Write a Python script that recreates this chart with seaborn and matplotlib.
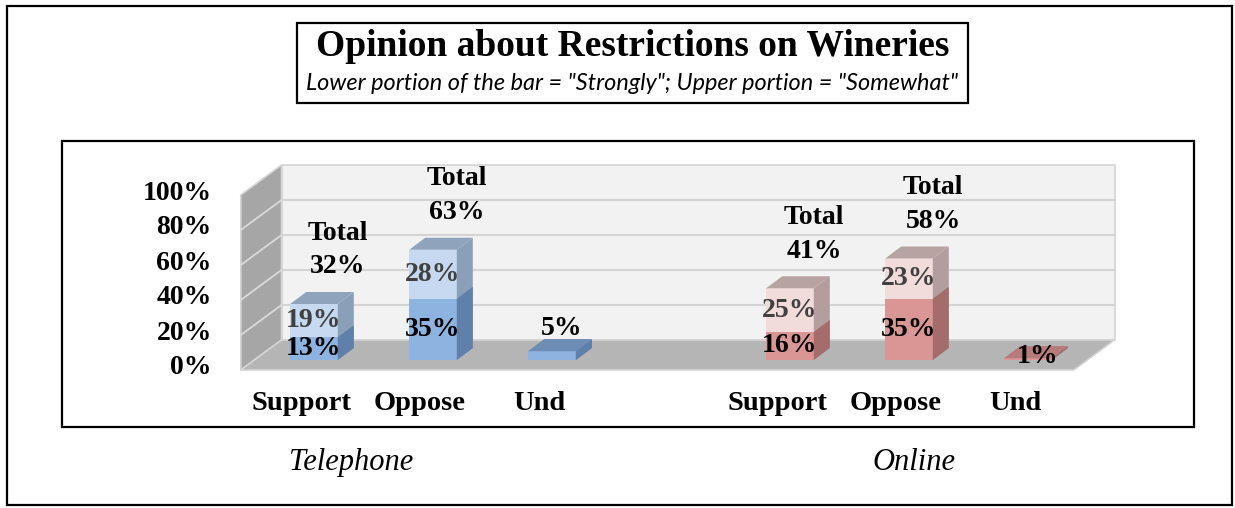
import numpy as np
import pandas as pd
import matplotlib
matplotlib.use('Agg')
import matplotlib.pyplot as plt
import seaborn as sns
from matplotlib.patches import Polygon, Rectangle

# data
modes = ['Telephone', 'Telephone', 'Telephone', 'Online', 'Online', 'Online']
cats = ['Support', 'Oppose', 'Und', 'Support', 'Oppose', 'Und']
strongly = [13, 35, 5, 16, 35, 1]
somewhat = [19, 28, 0, 25, 23, 0]
positions = [0, 1, 2, 4, 5, 6]
yticks = [0, 20, 40, 60, 80, 100]
ytick_labels = ['0%', '20%', '40%', '60%', '80%', '100%']
mode_names = ['Telephone', 'Online']

df = pd.DataFrame({'mode': modes, 'cat': cats, 'pos': positions,
                   'strong': strongly, 'some': somewhat})
df['total'] = df['strong'] + df['some']

# colours (front, side, top) per mode
strong_col = {'Telephone': ('#8DB3E0', '#5F80AA', '#6E8DB5'),
              'Online': ('#D99694', '#A46D6C', '#B57C7B')}
some_col = {'Telephone': ('#C6D9F1', '#8C9FB8', '#8FA3BC'),
            'Online': ('#F2DCDB', '#B29E9E', '#B8A3A3')}

sns.set_style('white')
plt.rcParams['font.family'] = ['Liberation Serif', 'DejaVu Serif']
plt.rcParams['text.color'] = 'black'

W, H = 1235, 508
fig = plt.figure(figsize=(W / 100, H / 100), dpi=100)

# axes placed so that 1 category = 119 px, 1% = 1.75 px, bar front 0% at y=360px
x_lo, x_hi = -1.2, 7.2
y_lo, y_hi = -20, 115
x0_px = 314 + x_lo * 119
x1_px = 314 + x_hi * 119
yb_px = 360 - y_lo * 1.75
yt_px = 360 - y_hi * 1.75
ax = fig.add_axes([x0_px / W, 1 - yb_px / H, (x1_px - x0_px) / W, (yb_px - yt_px) / H])

# stacked bars: total (upper colour) first, strong on top of it
n0 = len(ax.patches)
sns.barplot(data=df, x='pos', y='total', native_scale=True, width=0.4,
            color='#C6D9F1', errorbar=None, ax=ax, zorder=3, linewidth=0)
total_bars = ax.patches[n0:]
n1 = len(ax.patches)
sns.barplot(data=df, x='pos', y='strong', native_scale=True, width=0.4,
            color='#8DB3E0', errorbar=None, ax=ax, zorder=4, linewidth=0)
strong_bars = ax.patches[n1:]

ax.set_xlim(x_lo, x_hi)
ax.set_ylim(y_lo, y_hi)
ax.set_axis_off()

# pixel -> data units
ux = ax.transData.transform((1, 0))[0] - ax.transData.transform((0, 0))[0]
uy = ax.transData.transform((0, 1))[1] - ax.transData.transform((0, 0))[1]


def off(x, y, dxp, dyp):
    return (x + dxp / ux, y + dyp / uy)


back = (27, 20)      # back wall offset from the bar plane (px)
front = (-13.7, -10)  # front edge of floor / side wall
bdx, bdy = 16, 12    # depth of bars
wl, wr = -0.5, 6.5

# back wall and grid
ax.add_patch(Polygon([off(wl, 0, *back), off(wr, 0, *back), off(wr, 100, *back), off(wl, 100, *back)],
                     closed=True, fc='#F2F2F2', ec='#D4D4D4', lw=1.2, zorder=0))
for v in yticks[1:-1]:
    a, b = off(wl, v, *back), off(wr, v, *back)
    ax.plot([a[0], b[0]], [a[1], b[1]], color='#D4D4D4', lw=1.5, zorder=0.5)

# side wall
ax.add_patch(Polygon([off(wl, 0, *front), off(wl, 100, *front), off(wl, 100, *back), off(wl, 0, *back)],
                     closed=True, fc='#A6A6A6', ec='#D4D4D4', lw=1.2, zorder=1))
for v in yticks[1:-1]:
    a, b = off(wl, v, *front), off(wl, v, *back)
    ax.plot([a[0], b[0]], [a[1], b[1]], color='#DADADA', lw=1.3, zorder=1.2)

# floor
ax.add_patch(Polygon([off(wl, 0, *front), off(wr, 0, *front), off(wr, 0, *back), off(wl, 0, *back)],
                     closed=True, fc='#B5B5B5', ec='#D4D4D4', lw=1.2, zorder=1.5))

# colour the bars and add 3d faces
for i, (pt, ps) in enumerate(zip(total_bars, strong_bars)):
    m = df['mode'][i]
    has_some = df['some'][i] > 0
    pt.set_facecolor(some_col[m][0] if has_some else strong_col[m][0])
    ps.set_facecolor(strong_col[m][0])
    for p, cols, z in [(pt, some_col[m] if has_some else strong_col[m], 3), (ps, strong_col[m], 4)]:
        x0, w = p.get_x(), p.get_width()
        y0, h = p.get_y(), p.get_height()
        side = [(x0 + w, y0), (x0 + w, y0 + h), off(x0 + w, y0 + h, bdx, bdy), off(x0 + w, y0, bdx, bdy)]
        ax.add_patch(Polygon(side, closed=True, fc=cols[1], ec='none', zorder=z))
        if z == 3 or not has_some:
            top = [(x0, y0 + h), (x0 + w, y0 + h), off(x0 + w, y0 + h, bdx, bdy), off(x0, y0 + h, bdx, bdy)]
            ax.add_patch(Polygon(top, closed=True, fc=cols[2], ec='none', zorder=z + 0.5))

# value labels
vfs = 20
for i, r in df.iterrows():
    if r['some'] > 0:
        ax.text(r['pos'], r['strong'] / 2, f"{r['strong']}%", ha='center', va='center',
                fontsize=vfs, fontweight='bold', color='black', zorder=6)
        ax.text(r['pos'], r['strong'] + r['some'] / 2, f"{r['some']}%", ha='center', va='center',
                fontsize=vfs, fontweight='bold', color='#404040', zorder=6)
        lx, ly = off(r['pos'], r['total'], 24, 54)
        ax.text(lx, ly, f"Total\n{r['total']}%", ha='center', va='center', linespacing=1.45,
                fontsize=vfs, fontweight='bold', color='black', zorder=6)
    else:
        lift = 23 if r['mode'] == 'Telephone' else 2
        lx, ly = off(r['pos'], r['total'], 10, lift)
        ax.text(lx, ly, f"{r['total']}%", ha='center', va='center',
                fontsize=vfs, fontweight='bold', color='black', zorder=6)

# y tick labels on the front edge of the side wall
for v, lab in zip(yticks, ytick_labels):
    lx, ly = off(wl, v, front[0] - 29, front[1] + 2)
    ax.text(lx, ly, lab, ha='right', va='center', fontsize=20, fontweight='bold', color='black')

# category labels
for i, r in df.iterrows():
    lx, ly = off(r['pos'], 0, -13, -43)
    ax.text(lx, ly, r['cat'], ha='center', va='center', fontsize=20.5, fontweight='bold', color='black')

# survey mode labels
mode_dx = {'Telephone': -82, 'Online': 5}
for m in mode_names:
    xm = df.loc[df['mode'] == m, 'pos'].mean()
    lx, ly = off(xm, 0, mode_dx[m], -103)
    ax.text(lx, ly, m, ha='center', va='center', fontsize=22, fontstyle='italic', color='black')

# frames
def frame(x0, y0, x1, y1, lw=1.6):
    fig.add_artist(Rectangle((x0 / W, 1 - y1 / H), (x1 - x0) / W, (y1 - y0) / H,
                             transform=fig.transFigure, fill=False, ec='black', lw=lw))

frame(7, 6, 1232, 505)
frame(62, 141, 1194, 427)
frame(297, 23, 968, 103)

fig.text(632.5 / W, 1 - 46 / H, 'Opinion about Restrictions on Wineries', ha='center', va='center',
         fontsize=27, fontweight='bold')
sub = fig.text(632.5 / W, 1 - 84 / H, 'Lower portion of the bar = "Strongly"; Upper portion = "Somewhat"',
               ha='center', va='center', fontsize=14, fontstyle='italic', family=['Lato', 'DejaVu Sans'])
# squeeze subtitle to the width seen in the picture (~655 px)
r = fig.canvas.get_renderer()
wpx = sub.get_window_extent(r).width
sub.set_fontsize(14 * 655 / wpx)

fig.savefig('out.png', dpi=100)
